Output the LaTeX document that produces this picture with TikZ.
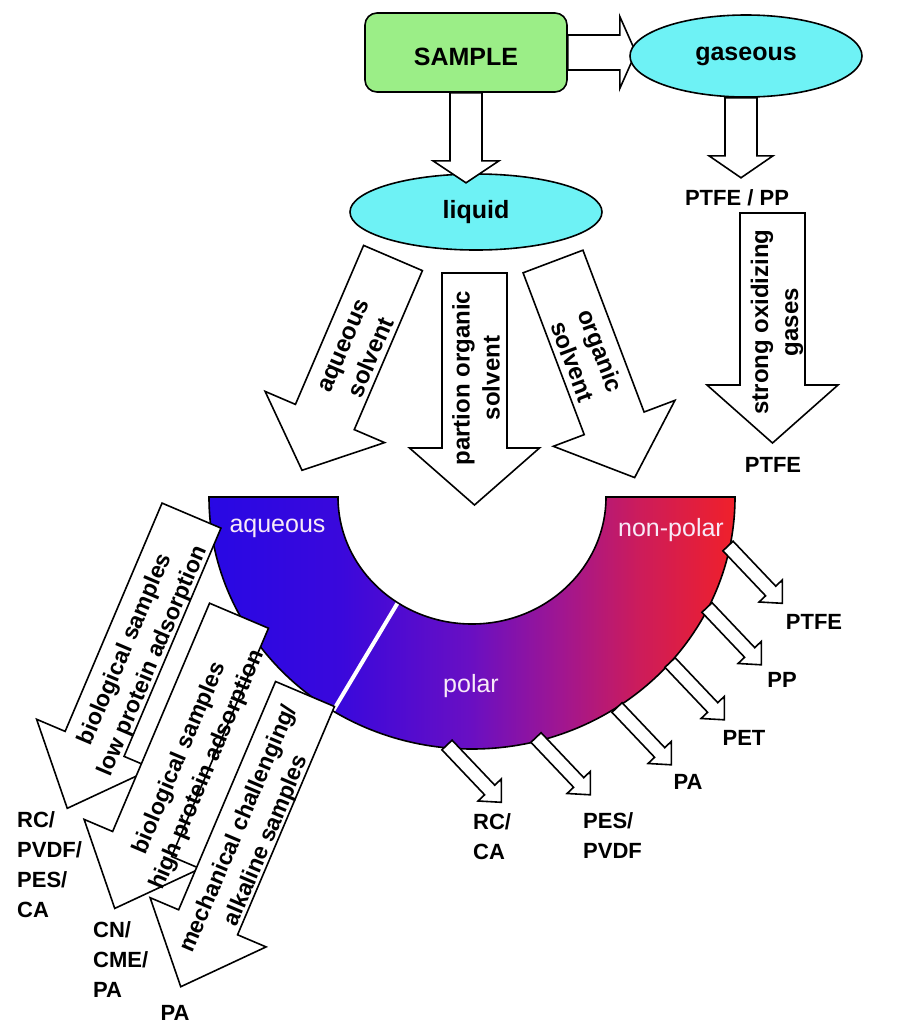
\documentclass[tikz,border=0pt]{standalone}
\usepackage{fontspec}
\setmainfont{Liberation Sans}
\usetikzlibrary{shapes.geometric}
\pgfdeclarelayer{back}
\pgfsetlayers{back,main}
\definecolor{samplegreen}{RGB}{155,238,135}
\definecolor{ellcyan}{RGB}{110,242,245}
\definecolor{cA}{RGB}{40,8,228}
\definecolor{cB}{RGB}{58,8,220}
\definecolor{cC}{RGB}{105,15,195}
\definecolor{cD}{RGB}{160,22,145}
\definecolor{cE}{RGB}{205,28,90}
\definecolor{cF}{RGB}{240,32,42}
\definecolor{paletext}{RGB}{248,234,248}
\pgfdeclarehorizontalshading{annshade}{100bp}{color(0bp)=(cA); color(25bp)=(cA); color(37.5bp)=(cB); color(49.8bp)=(cC); color(58.4bp)=(cD); color(66bp)=(cE); color(75bp)=(cF); color(100bp)=(cF)}
\newcommand\fBig{\fontsize{25}{30}\selectfont\bfseries}
\newcommand\fArr{\fontsize{24}{30}\selectfont\bfseries}
\newcommand\fArrS{\fontsize{23}{30}\selectfont\bfseries}
\newcommand\fLbl{\fontsize{22}{30}\selectfont\bfseries}
\newcommand\fWh{\fontsize{25}{30}\selectfont}
% #1 start, #2 angle, #3 length, #4 shaft width, #5 head width, #6 head length
\newcommand\blockarrow[6]{%
  \begin{scope}[shift={(#1)}, rotate=#2]
    \draw[barrow] (0,{-(#4)/2}) -- ({#3-#6},{-(#4)/2}) -- ({#3-#6},{-(#5)/2}) -- (#3,0)
      -- ({#3-#6},{(#5)/2}) -- ({#3-#6},{(#4)/2}) -- (0,{(#4)/2}) -- cycle;
  \end{scope}}
\begin{document}
\begin{tikzpicture}[x=1pt, y=1pt,
  barrow/.style={draw=black, fill=white, line width=1.6pt},
  atext/.style={font=\fArr, align=center, inner sep=0pt},
  atexts/.style={font=\fArrS, align=center, inner sep=0pt},
  lbl/.style={font=\fLbl, align=left, inner sep=0pt},
  wlbl/.style={font=\fWh, text=paletext, inner sep=0pt, anchor=base},
  ell/.style={ellipse, draw=black, line width=1.6pt, fill=ellcyan, inner sep=0pt, font=\fBig}]
\path[use as bounding box] (0,0) rectangle (906,-1021);

% ---------- annulus ----------
\begin{scope}
  \clip (209,-497) arc[start angle=180, end angle=360, x radius=263, y radius=252]
     -- (606,-497) arc[start angle=0, end angle=-180, x radius=134, y radius=127] -- cycle;
  \shade[shading=annshade] (209,-490) rectangle (735,-760);
  \draw[white, line width=4pt] (403,-594) -- (333,-711);
\end{scope}
\draw[line width=1.6pt] (209,-497) arc[start angle=180, end angle=360, x radius=263, y radius=252]
     -- (606,-497) arc[start angle=0, end angle=-180, x radius=134, y radius=127] -- cycle;
\node[wlbl] (aq) at (277.5,-532) {aqueous};
\node[wlbl] (np) at (671,-536) {non-polar};
\node[wlbl] (po) at (471,-692) {polar};

% ---------- top nodes ----------
\node[draw=black, line width=1.6pt, fill=samplegreen, rounded corners=12pt,
      minimum width=202pt, minimum height=79pt, inner sep=0pt, font=\fBig, text height=27pt]
      (sample) at (466,-52.5) {SAMPLE};
\node[ell, minimum width=232pt, minimum height=82pt] (gaseous) at (746,-56) {gaseous};
\node[ell, minimum width=252pt, minimum height=76pt] (liquid) at (476,-212) {liquid};
\coordinate (gout) at ([xshift=-5pt]gaseous.south);

\begin{pgfonlayer}{back}
  \blockarrow{sample.east}{0}{68}{35}{72}{16}
  \blockarrow{gout}{-90}{80}{32}{64}{22}
\end{pgfonlayer}
\blockarrow{sample.south}{-90}{90}{32}{66}{22}

\node[lbl] (ptfepp) at (737,-197.5) {PTFE / PP};

% ---------- liquid arrows ----------
\coordinate (la) at (393,-258);
\coordinate (lb) at (474.5,-273);
\coordinate (lc) at (553,-261.5);
\blockarrow{la}{-113.2}{231}{64}{130}{58}
\blockarrow{lb}{-90}{232}{65}{130}{57}
\blockarrow{lc}{-69.3}{231}{64}{130}{58}
\node[atext, rotate=66.8] (taq) at (358,-352) {aqueous\\solvent};
\node[atext, rotate=90] (tpa) at (476,-378) {partion organic\\solvent};
\node[atext, rotate=-69.3] (tor) at (587,-356) {organic\\solvent};

% ---------- gaseous branch ----------
\coordinate (sg) at (772.5,-213);
\blockarrow{sg}{-90}{230}{65}{131}{58}
\node[atext, rotate=90] (tso) at (777,-322) {strong oxidizing\\gases};
\node[lbl] (ptfe1) at (773,-464.5) {PTFE};

% ---------- left arrows ----------
\coordinate (b1) at (191.5,-515.6);
\coordinate (b2) at (239,-615.7);
\coordinate (b3) at (305,-694);
\blockarrow{b1}{-113}{318}{64}{126}{70}
\blockarrow{b2}{-113}{318}{64}{126}{70}
\blockarrow{b3}{-113}{318}{64}{126}{70}
\node[atexts, rotate=67] (tb1) at (139.5,-655.5) {biological samples\\low protein adsorption};
\node[atexts, rotate=67] (tb2) at (194,-764) {biological samples\\high protein adsorption};
\node[atexts, rotate=67] (tb3) at (253,-835) {mechanical challenging/\\alkaline samples};
\node[lbl, anchor=west] (l1) at (17,-865) {RC/\\PVDF/\\PES/\\CA};
\node[lbl, anchor=west] (l2) at (93,-960) {CN/\\CME/\\PA};
\node[lbl, anchor=north] (l3) at (175,-1005) {PA};

% ---------- small arrows ----------
\coordinate (p1) at (728,-546);
\coordinate (p2) at (707,-607.5);
\coordinate (p3) at (670,-662.5);
\coordinate (p4) at (617,-707.5);
\coordinate (p5) at (536,-737.5);
\coordinate (p6) at (447,-745);
\blockarrow{p1}{-46.5}{79}{14}{32}{17}
\blockarrow{p2}{-46.5}{79}{14}{32}{17}
\blockarrow{p3}{-46.5}{79}{14}{32}{17}
\blockarrow{p4}{-46.5}{79}{14}{32}{17}
\blockarrow{p5}{-46.5}{79}{14}{32}{17}
\blockarrow{p6}{-46.5}{79}{14}{32}{17}
\node[lbl] (r1) at (814,-622) {PTFE};
\node[lbl] (r2) at (782,-680) {PP};
\node[lbl] (r3) at (744,-738) {PET};
\node[lbl] (r4) at (688,-782) {PA};
\node[lbl, anchor=west] (r5) at (583,-836) {PES/\\PVDF};
\node[lbl, anchor=west] (r6) at (473,-837) {RC/\\CA};
\end{tikzpicture}
\end{document}
